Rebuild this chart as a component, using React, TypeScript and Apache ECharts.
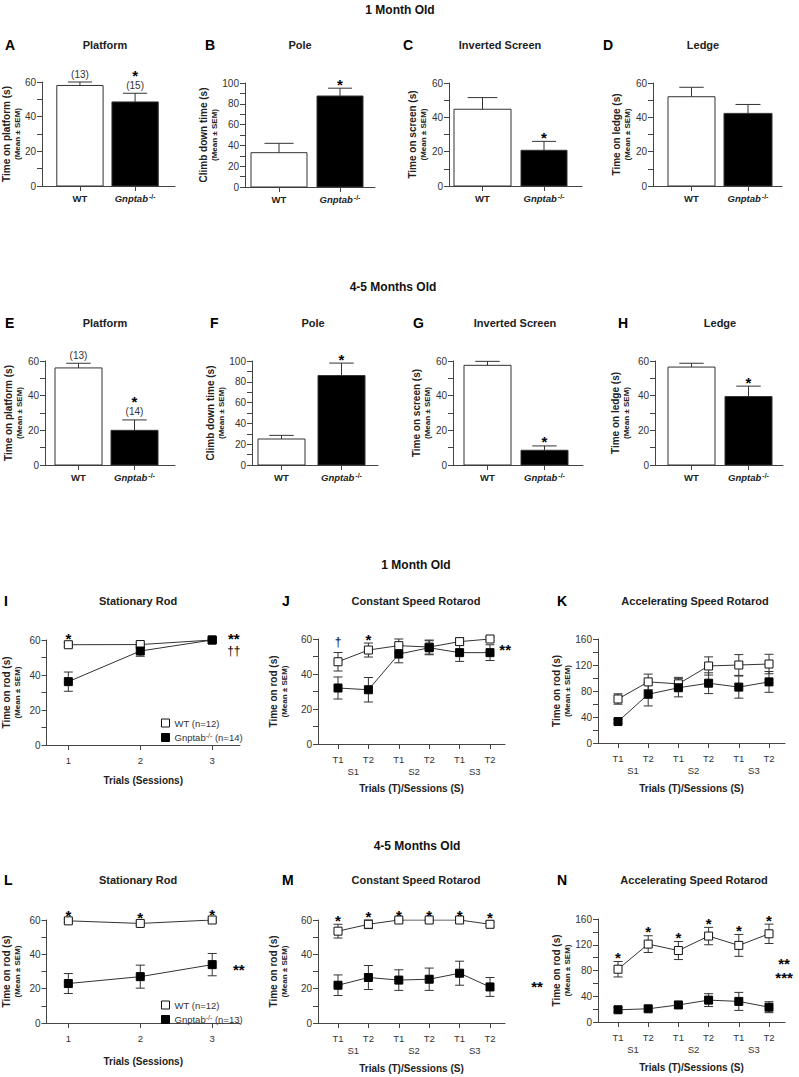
import { useEffect, useRef } from 'react';
import * as echarts from 'echarts';

const FONT = '"Liberation Sans", Arial, Helvetica, sans-serif';
const AX = '#444';
const TXT = '#222';

// ---------------- Data: bar panels (WT, Gnptab-/-) ----------------
const barGroups = ['WT', 'Gnptab-/-'];

const platform1Mean = [58, 48.5];
const platform1Sem = [2, 5];
const platform1N = ['(13)', '(15)'];
const platform1Stars = ['', '*'];

const pole1Mean = [33, 87.5];
const pole1Sem = [9, 7.5];
const pole1Stars = ['', '*'];

const screen1Mean = [44.7, 20.8];
const screen1Sem = [6.8, 5.2];
const screen1Stars = ['', '*'];

const ledge1Mean = [52, 42.3];
const ledge1Sem = [5.5, 5.2];
const ledge1Stars = ['', ''];

const platform45Mean = [56, 20];
const platform45Sem = [2.7, 6];
const platform45N = ['(13)', '(14)'];
const platform45Stars = ['', '*'];

const pole45Mean = [25, 86];
const pole45Sem = [3.5, 12];
const pole45Stars = ['', '*'];

const screen45Mean = [57.5, 8.5];
const screen45Sem = [2.3, 2.5];
const screen45Stars = ['', '*'];

const ledge45Mean = [56.5, 39.5];
const ledge45Sem = [2.2, 6];
const ledge45Stars = ['', '*'];

// ---------------- Data: line panels ----------------
const rodTrials = ['1', '2', '3'];
const rotaTrials = ['T1', 'T2', 'T1', 'T2', 'T1', 'T2'];
const rotaSessions = ['S1', 'S2', 'S3'];

const statRod1WtMean = [57.3, 57.4, 60];
const statRod1WtSem = [1.2, 1, 0.5];
const statRod1KoMean = [36.2, 53.7, 60];
const statRod1KoSem = [5.5, 3, 0.5];
const statRod1Marks = ['*', '', ''];
const statRod1Notes = ['**', '††'];

const constRod1WtMean = [47, 53.7, 56.2, 55.4, 58.5, 60];
const constRod1WtSem = [5.3, 4, 3.8, 4, 2, 1];
const constRod1KoMean = [32, 31, 51.4, 55, 52.2, 52.2];
const constRod1KoSem = [6.3, 7, 5, 4, 5, 4.5];
const constRod1Marks = ['†', '*', '', '', '', ''];
const constRod1Notes = ['**'];

const accRod1WtMean = [67.7, 94, 91, 118.5, 120, 121.5];
const accRod1WtSem = [8, 12, 10, 14, 16, 15];
const accRod1KoMean = [33, 75, 85, 92, 86, 94];
const accRod1KoSem = [3, 18, 14, 16, 17, 16];
const accRod1Marks = ['', '', '', '', '', ''];
const accRod1Notes: string[] = [];

const statRod45WtMean = [59.5, 58, 60];
const statRod45WtSem = [1, 1.2, 0.8];
const statRod45KoMean = [23, 27, 34];
const statRod45KoSem = [5.8, 6.7, 6.5];
const statRod45Marks = ['*', '*', '*'];
const statRod45Notes = ['**'];

const constRod45WtMean = [53.5, 57.5, 60, 60, 60, 57.5];
const constRod45WtSem = [4, 2.5, 0.5, 0.5, 0.5, 1.5];
const constRod45KoMean = [22, 26.5, 25, 25.5, 29, 21];
const constRod45KoSem = [6, 7, 6, 6.5, 7, 5.5];
const constRod45Marks = ['*', '*', '*', '*', '*', '*'];
const constRod45Notes = ['**'];

const accRod45WtMean = [82, 121, 111, 133.5, 119, 137];
const accRod45WtSem = [12, 13, 14, 13.5, 17, 15];
const accRod45KoMean = [19, 20.5, 26.5, 34, 32, 23];
const accRod45KoSem = [4, 4, 5, 10, 14, 8.5];
const accRod45Marks = ['*', '*', '*', '*', '*', '*'];
const accRod45Notes = ['**', '***'];

// ---------------- Layout ----------------
type BarPanel = {
  letter: string; title: string; yName: string;
  mean: number[]; sem: number[]; n?: string[]; stars: string[];
  yMax: number; left: number; right: number; top: number; bottom: number;
  wt: [number, number]; ko: [number, number]; nameGap: number;
  titleX: number; titleY: number; letterX: number;
};

const barPanels: BarPanel[] = [
  { letter: 'A', title: 'Platform', yName: 'Time on platform (s)', mean: platform1Mean, sem: platform1Sem, n: platform1N, stars: platform1Stars,
    yMax: 60, left: 40, right: 175, top: 82, bottom: 186, wt: [55, 102], ko: [111, 158], nameGap: 10, titleX: 105, titleY: 45, letterX: 5 },
  { letter: 'B', title: 'Pole', yName: 'Climb down time (s)', mean: pole1Mean, sem: pole1Sem, stars: pole1Stars,
    yMax: 100, left: 245, right: 375, top: 83, bottom: 187, wt: [251, 307], ko: [317, 363], nameGap: 8, titleX: 300, titleY: 45, letterX: 205 },
  { letter: 'C', title: 'Inverted Screen', yName: 'Time on screen (s)', mean: screen1Mean, sem: screen1Sem, stars: screen1Stars,
    yMax: 60, left: 449, right: 582, top: 83, bottom: 186, wt: [454, 511], ko: [521, 567], nameGap: 13, titleX: 500, titleY: 45, letterX: 403 },
  { letter: 'D', title: 'Ledge', yName: 'Time on ledge (s)', mean: ledge1Mean, sem: ledge1Sem, stars: ledge1Stars,
    yMax: 60, left: 653, right: 782, top: 83, bottom: 186, wt: [668, 715], ko: [724, 772], nameGap: 10, titleX: 703, titleY: 45, letterX: 603 },
  { letter: 'E', title: 'Platform', yName: 'Time on platform (s)', mean: platform45Mean, sem: platform45Sem, n: platform45N, stars: platform45Stars,
    yMax: 60, left: 45, right: 175, top: 361, bottom: 465, wt: [55, 102], ko: [111, 158], nameGap: 19, titleX: 105, titleY: 323, letterX: 5 },
  { letter: 'F', title: 'Pole', yName: 'Climb down time (s)', mean: pole45Mean, sem: pole45Sem, stars: pole45Stars,
    yMax: 100, left: 252, right: 378, top: 361, bottom: 465, wt: [258, 305], ko: [318, 365], nameGap: 23, titleX: 313, titleY: 323, letterX: 210 },
  { letter: 'G', title: 'Inverted Screen', yName: 'Time on screen (s)', mean: screen45Mean, sem: screen45Sem, stars: screen45Stars,
    yMax: 60, left: 453, right: 583, top: 361, bottom: 465, wt: [464, 511], ko: [521, 568], nameGap: 17, titleX: 515, titleY: 323, letterX: 413 },
  { letter: 'H', title: 'Ledge', yName: 'Time on ledge (s)', mean: ledge45Mean, sem: ledge45Sem, stars: ledge45Stars,
    yMax: 60, left: 655, right: 783, top: 361, bottom: 465, wt: [668, 715], ko: [725, 772], nameGap: 23, titleX: 720, titleY: 323, letterX: 618 },
];

type LinePanel = {
  letter: string; title: string; labels: string[]; sessions?: string[]; xName: string;
  wtMean: number[]; wtSem: number[]; koMean: number[]; koSem: number[];
  marks: string[]; notes: string[]; notePos: [number, number][];
  wtName: string; koName: string;
  yMax: number; yStep: number; labelStep: number;
  left: number; right: number; top: number; bottom: number; p1: number; pLast: number;
  nameGap: number; xNameGap: number; titleX: number; titleY: number; letterX: number;
  legendTop?: number;
};

const linePanels: LinePanel[] = [
  { letter: 'I', title: 'Stationary Rod', labels: rodTrials, xName: 'Trials (Sessions)',
    wtMean: statRod1WtMean, wtSem: statRod1WtSem, koMean: statRod1KoMean, koSem: statRod1KoSem,
    marks: statRod1Marks, notes: statRod1Notes, notePos: [[3.3, 61], [3.3, 54]],
    wtName: 'WT (n=12)', koName: 'Gnptab-/- (n=14)',
    yMax: 60, yStep: 10, labelStep: 20, left: 45, right: 240, top: 640, bottom: 745, p1: 67, pLast: 212,
    nameGap: 24, xNameGap: 30, titleX: 138, titleY: 601, letterX: 4, legendTop: 713 },
  { letter: 'J', title: 'Constant Speed Rotarod', labels: rotaTrials, sessions: rotaSessions, xName: 'Trials (T)/Sessions (S)',
    wtMean: constRod1WtMean, wtSem: constRod1WtSem, koMean: constRod1KoMean, koSem: constRod1KoSem,
    marks: constRod1Marks, notes: constRod1Notes, notePos: [[6.5, 54]],
    wtName: 'WT J', koName: 'KO J',
    yMax: 60, yStep: 10, labelStep: 20, left: 318, right: 505, top: 639, bottom: 744, p1: 338, pLast: 490,
    nameGap: 28, xNameGap: 39, titleX: 416, titleY: 601, letterX: 282 },
  { letter: 'K', title: 'Accelerating Speed Rotarod', labels: rotaTrials, sessions: rotaSessions, xName: 'Trials (T)/Sessions (S)',
    wtMean: accRod1WtMean, wtSem: accRod1WtSem, koMean: accRod1KoMean, koSem: accRod1KoSem,
    marks: accRod1Marks, notes: accRod1Notes, notePos: [],
    wtName: 'WT K', koName: 'KO K',
    yMax: 160, yStep: 20, labelStep: 40, left: 598, right: 785, top: 639, bottom: 743, p1: 618, pLast: 769,
    nameGap: 23, xNameGap: 40, titleX: 695, titleY: 601, letterX: 557 },
  { letter: 'L', title: 'Stationary Rod', labels: rodTrials, xName: 'Trials (Sessions)',
    wtMean: statRod45WtMean, wtSem: statRod45WtSem, koMean: statRod45KoMean, koSem: statRod45KoSem,
    marks: statRod45Marks, notes: statRod45Notes, notePos: [[3.37, 31]],
    wtName: 'WT (n=12)', koName: 'Gnptab-/- (n=13)',
    yMax: 60, yStep: 10, labelStep: 20, left: 45, right: 240, top: 920, bottom: 1023, p1: 67, pLast: 212,
    nameGap: 24, xNameGap: 33, titleX: 138, titleY: 880, letterX: 4, legendTop: 995 },
  { letter: 'M', title: 'Constant Speed Rotarod', labels: rotaTrials, sessions: rotaSessions, xName: 'Trials (T)/Sessions (S)',
    wtMean: constRod45WtMean, wtSem: constRod45WtSem, koMean: constRod45KoMean, koSem: constRod45KoSem,
    marks: constRod45Marks, notes: constRod45Notes, notePos: [[7.55, 21]],
    wtName: 'WT M', koName: 'KO M',
    yMax: 60, yStep: 10, labelStep: 20, left: 318, right: 505, top: 920, bottom: 1023, p1: 338, pLast: 490,
    nameGap: 28, xNameGap: 40, titleX: 416, titleY: 880, letterX: 282 },
  { letter: 'N', title: 'Accelerating Speed Rotarod', labels: rotaTrials, sessions: rotaSessions, xName: 'Trials (T)/Sessions (S)',
    wtMean: accRod45WtMean, wtSem: accRod45WtSem, koMean: accRod45KoMean, koSem: accRod45KoSem,
    marks: accRod45Marks, notes: accRod45Notes, notePos: [[6.5, 91], [6.5, 69]],
    wtName: 'WT N', koName: 'KO N',
    yMax: 160, yStep: 20, labelStep: 40, left: 598, right: 785, top: 919, bottom: 1022, p1: 618, pLast: 769,
    nameGap: 20, xNameGap: 40, titleX: 694, titleY: 880, letterX: 557 },
];

const headings = [
  { text: '1 Month Old', x: 400, y: 10 },
  { text: '4-5 Months Old', x: 393, y: 287 },
  { text: '1 Month Old', x: 416, y: 565 },
  { text: '4-5 Months Old', x: 417, y: 846 },
];

// ---------------- Helpers ----------------
const catRich = {
  w: { fontSize: 9.5, fontWeight: 'bold', fontFamily: FONT, color: TXT },
  g: { fontSize: 9.5, fontWeight: 'bold', fontStyle: 'italic', fontFamily: FONT, color: TXT },
  s: { fontSize: 7, fontWeight: 'bold', fontFamily: FONT, color: TXT, verticalAlign: 'top', padding: [0, 0, 4, 1] },
};
const catLabel = (name: string) =>
  name.startsWith('Gnptab') ? '{g|Gnptab}{s|-/-}' : `{w|${name}}`;

const yNameRich = {
  a: { fontSize: 10, fontWeight: 'bold', fontFamily: FONT, color: TXT, lineHeight: 11 },
  b: { fontSize: 8, fontWeight: 'bold', fontFamily: FONT, color: TXT, lineHeight: 11 },
};

function txt(text: string, x: number, y: number, size: number, bold: boolean, align = 'center', color = TXT) {
  return {
    type: 'text', x, y, silent: true,
    style: {
      text, fill: color, fontSize: size, fontWeight: bold ? 'bold' : 'normal', fontFamily: FONT,
      align, verticalAlign: 'middle', textAlign: align, textVerticalAlign: 'middle',
    },
  };
}

function yAxisOf(gi: number, max: number, step: number, labelStep: number, name: string, gap: number) {
  return {
    type: 'value', gridIndex: gi, min: 0, max, interval: step,
    axisLine: { show: true, onZero: false, lineStyle: { color: AX, width: 1 } },
    axisTick: { show: true, length: 5, lineStyle: { color: AX } },
    axisLabel: {
      fontSize: 10, color: '#333', fontFamily: FONT, margin: 6,
      formatter: (v: number) => (Math.round(v) % labelStep === 0 ? String(Math.round(v)) : ''),
    },
    splitLine: { show: false },
    name: `{a|${name}}\n{b|(Mean ± SEM)}`,
    nameLocation: 'middle', nameRotate: 90, nameGap: gap,
    nameTextStyle: { rich: yNameRich },
  };
}

function buildOption() {
  const grids: any[] = [];
  const xAxes: any[] = [];
  const yAxes: any[] = [];
  const series: any[] = [];
  const graphic: any[] = [];
  const legends: any[] = [];

  headings.forEach((h) => graphic.push(txt(h.text, h.x, h.y, 12, true, 'center', '#111')));

  // ----- bar panels -----
  barPanels.forEach((p) => {
    const gi = grids.length;
    const c0 = (p.wt[0] + p.wt[1]) / 2;
    const c1 = (p.ko[0] + p.ko[1]) / 2;
    const step = c1 - c0;
    const min = -(c0 - p.left) / step;
    const max = 1 + (p.right - c1) / step;
    const widths = [(p.wt[1] - p.wt[0]) / step, (p.ko[1] - p.ko[0]) / step];
    grids.push({ left: p.left, top: p.top, width: p.right - p.left, height: p.bottom - p.top });
    xAxes.push({
      type: 'value', gridIndex: gi, min, max,
      axisLine: { show: true, onZero: false, lineStyle: { color: AX, width: 1 } },
      axisTick: { show: true, customValues: [0, 1], length: 5, lineStyle: { color: AX } },
      axisLabel: {
        show: true, customValues: [0, 1], margin: 7, rich: catRich,
        formatter: (v: number) => catLabel(barGroups[Math.round(v)]),
      },
      splitLine: { show: false },
    });
    yAxes.push(yAxisOf(gi, p.yMax, 10, 20, p.yName, p.nameGap));
    const n = p.n;
    const stars = p.stars;
    series.push({
      type: 'custom', xAxisIndex: gi, yAxisIndex: gi, z: 3, silent: true,
      encode: { x: 0, y: 1 },
      data: p.mean.map((m, i) => [i, m, p.sem[i]]),
      renderItem: (_params: any, api: any) => {
        const i = Math.round(api.value(0));
        const m = api.value(1);
        const s = api.value(2);
        const hw = widths[i] / 2;
        const tl = api.coord([i - hw, m]);
        const br = api.coord([i + hw, 0]);
        const top = api.coord([i, m + s]);
        const cx = (tl[0] + br[0]) / 2;
        const capHalf = (br[0] - tl[0]) * 0.26;
        const children: any[] = [
          { type: 'rect', shape: { x: tl[0], y: tl[1], width: br[0] - tl[0], height: br[1] - tl[1] },
            style: { fill: i === 0 ? '#fff' : '#000', stroke: '#333', lineWidth: 1 } },
          { type: 'line', shape: { x1: cx, y1: tl[1], x2: cx, y2: top[1] }, style: { stroke: '#333', lineWidth: 1 } },
          { type: 'line', shape: { x1: cx - capHalf, y1: top[1], x2: cx + capHalf, y2: top[1] }, style: { stroke: '#333', lineWidth: 1 } },
        ];
        let y = top[1];
        if (n && n[i]) {
          children.push(txt(n[i], cx, y - 8, 10, false, 'center', '#333'));
          y -= 14;
        }
        if (stars[i]) children.push(txt(stars[i], cx, y - 4, 15, true, 'center', '#000'));
        return { type: 'group', children };
      },
    });
    graphic.push(txt(p.letter, p.letterX, p.titleY, 14, true, 'left', '#000'));
    graphic.push(txt(p.title, p.titleX, p.titleY, 11, true));
  });

  // ----- line panels -----
  linePanels.forEach((p) => {
    const gi = grids.length;
    const cnt = p.labels.length;
    const step = (p.pLast - p.p1) / (cnt - 1);
    const min = 1 - (p.p1 - p.left) / step;
    const max = cnt + (p.right - p.pLast) / step;
    const xs = p.labels.map((_, i) => i + 1);
    grids.push({ left: p.left, top: p.top, width: p.right - p.left, height: p.bottom - p.top });
    xAxes.push({
      type: 'value', gridIndex: gi, min, max,
      axisLine: { show: true, onZero: false, lineStyle: { color: AX, width: 1 } },
      axisTick: { show: true, customValues: xs, length: 5, lineStyle: { color: AX } },
      axisLabel: {
        show: true, customValues: xs, margin: 10, fontSize: 9.5, color: '#333', fontFamily: FONT,
        formatter: (v: number) => p.labels[Math.round(v) - 1] ?? '',
      },
      splitLine: { show: false },
      name: p.xName, nameLocation: 'middle', nameGap: p.xNameGap,
      nameTextStyle: { fontSize: 10, fontWeight: 'bold', fontFamily: FONT, color: TXT },
    });
    const yi = yAxes.length;
    yAxes.push(yAxisOf(gi, p.yMax, p.yStep, p.labelStep, 'Time on rod (s)', p.nameGap));
    const xi = xAxes.length - 1;
    if (p.sessions) {
      const sess = p.sessions;
      const sv = sess.map((_, k) => 1.5 + 2 * k);
      xAxes.push({
        type: 'value', gridIndex: gi, min, max, position: 'bottom', offset: 0,
        axisLine: { show: false, onZero: false }, axisTick: { show: false }, splitLine: { show: false },
        axisLabel: {
          show: true, customValues: sv, margin: 22, fontSize: 9.5, color: '#333', fontFamily: FONT,
          formatter: (v: number) => sess[Math.round((v - 1.5) / 2)] ?? '',
        },
      });
    }

    const errSeries = (mean: number[], sem: number[], marks: string[] | null, z: number) => ({
      type: 'custom', xAxisIndex: xi, yAxisIndex: yi, z, silent: true,
      encode: { x: 0, y: 1 },
      data: mean.map((m, i) => [xs[i], m, sem[i]]),
      renderItem: (params: any, api: any) => {
        const x = api.value(0);
        const m = api.value(1);
        const s = api.value(2);
        const lo = api.coord([x, m - s]);
        const hi = api.coord([x, m + s]);
        const cap = 4.5;
        const children: any[] = [
          { type: 'line', shape: { x1: lo[0], y1: lo[1], x2: hi[0], y2: hi[1] }, style: { stroke: '#333', lineWidth: 1 } },
          { type: 'line', shape: { x1: lo[0] - cap, y1: lo[1], x2: lo[0] + cap, y2: lo[1] }, style: { stroke: '#333', lineWidth: 1 } },
          { type: 'line', shape: { x1: hi[0] - cap, y1: hi[1], x2: hi[0] + cap, y2: hi[1] }, style: { stroke: '#333', lineWidth: 1 } },
        ];
        const mk = marks ? marks[params.dataIndex] : '';
        if (mk) {
          const dag = mk.includes('†');
          children.push(txt(mk, hi[0], hi[1] - (dag ? 10 : 4), dag ? 12 : 15, !dag, 'center', '#000'));
        }
        return { type: 'group', children };
      },
    });

    series.push(errSeries(p.wtMean, p.wtSem, p.marks, 2));
    series.push(errSeries(p.koMean, p.koSem, null, 2));
    series.push({
      type: 'line', name: p.wtName, xAxisIndex: xi, yAxisIndex: yi, z: 3,
      data: p.wtMean.map((m, i) => [xs[i], m]),
      symbol: 'rect', symbolSize: 8, showSymbol: true, silent: true,
      lineStyle: { color: '#333', width: 1 },
      itemStyle: { color: '#fff', borderColor: '#111', borderWidth: 1 },
    });
    series.push({
      type: 'line', name: p.koName, xAxisIndex: xi, yAxisIndex: yi, z: 4,
      data: p.koMean.map((m, i) => [xs[i], m]),
      symbol: 'rect', symbolSize: 8, showSymbol: true, silent: true,
      lineStyle: { color: '#333', width: 1 },
      itemStyle: { color: '#000', borderColor: '#000', borderWidth: 1 },
    });
    if (p.notes.length) {
      const notes = p.notes;
      series.push({
        type: 'custom', xAxisIndex: xi, yAxisIndex: yi, z: 5, silent: true,
        encode: { x: 0, y: 1 },
        data: p.notePos.map((q) => [q[0], q[1]]),
        renderItem: (params: any, api: any) => {
          const pt = api.coord([api.value(0), api.value(1)]);
          const t = notes[params.dataIndex];
          const dag = t.includes('†');
          return txt(t, pt[0], pt[1], dag ? 12 : 15, !dag, 'center', '#000');
        },
      });
    }
    if (p.legendTop !== undefined) {
      legends.push({
        left: 156, top: p.legendTop, orient: 'vertical', itemWidth: 8, itemHeight: 8, itemGap: 4,
        selectedMode: false,
        data: [
          { name: p.wtName, icon: 'rect', itemStyle: { color: '#fff', borderColor: '#111', borderWidth: 1 } },
          { name: p.koName, icon: 'rect', itemStyle: { color: '#000', borderColor: '#000', borderWidth: 1 } },
        ],
        textStyle: {
          fontSize: 9.5, fontFamily: FONT, color: '#333',
          rich: {
            g: { fontSize: 9.5, fontFamily: FONT, color: '#333' },
            s: { fontSize: 7, fontFamily: FONT, color: '#333', verticalAlign: 'top', padding: [0, 0, 4, 0] },
          },
        },
        formatter: (name: string) => {
          if (name.startsWith('Gnptab')) return `{g|Gnptab}{s|-/-}{g|${name.slice(9)}}`;
          return name;
        },
      });
    }
    graphic.push(txt(p.letter, p.letterX, p.titleY, 14, true, 'left', '#000'));
    graphic.push(txt(p.title, p.titleX, p.titleY, 11, true));
  });

  return {
    animation: false,
    backgroundColor: '#fff',
    textStyle: { fontFamily: FONT },
    grid: grids,
    xAxis: xAxes,
    yAxis: yAxes,
    legend: legends,
    series,
    graphic,
  };
}

export default function App() {
  const ref = useRef<HTMLDivElement>(null);
  useEffect(() => {
    if (!ref.current) return;
    const chart = echarts.init(ref.current, null, { renderer: 'svg' });
    chart.setOption(buildOption() as any);
    return () => chart.dispose();
  }, []);
  return (
    <div
      ref={ref}
      style={{ position: 'absolute', left: 0, top: 0, width: 799, height: 1077, background: '#fff' }}
    />
  );
}
